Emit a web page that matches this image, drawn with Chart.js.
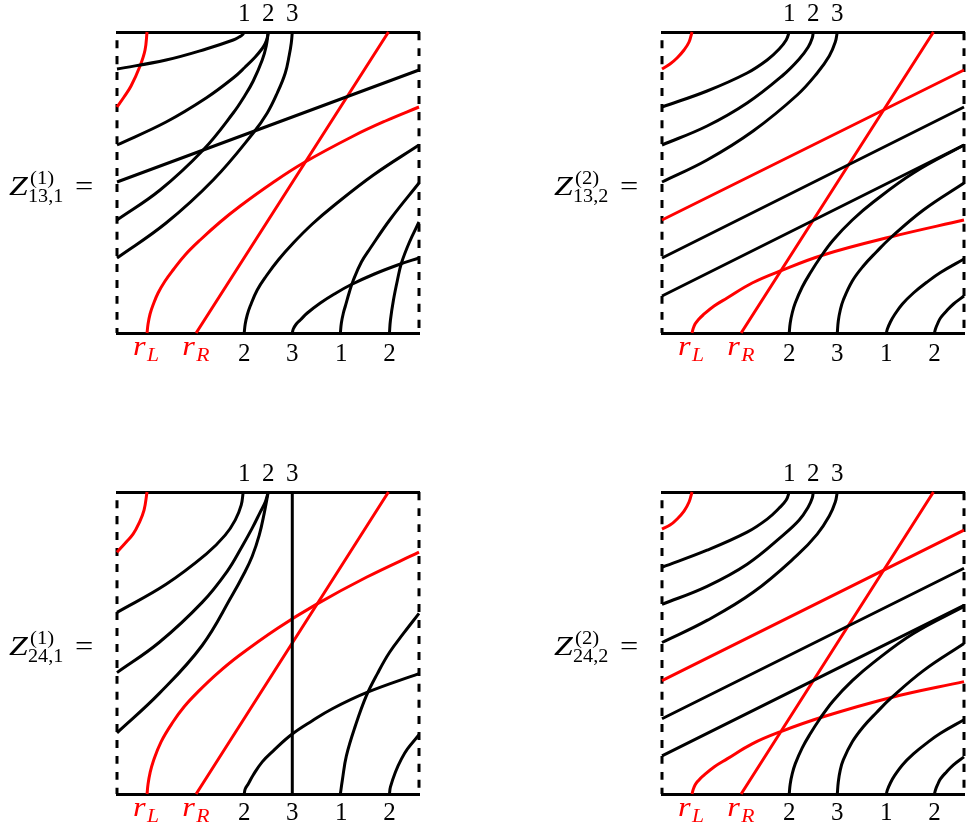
<!DOCTYPE html>
<html>
<head>
<meta charset="utf-8">
<style>
  html, body { margin: 0; padding: 0; background: #fff; }
  #page { position: relative; width: 966px; height: 826px; overflow: hidden; }
  canvas { position: absolute; }
</style>
<script src="https://cdn.jsdelivr.net/npm/chart.js@4/dist/chart.umd.js"></script>
</head>
<body>
<div id="page"></div>
<script>
// tick marks, same on all four squares
const topTickValues = [127, 151, 175];
const topTickLabels = ["1", "2", "3"];
const bottomTickValues = [30, 79, 127, 175, 224, 272];
const bottomTickLabels = ["", "", "2", "3", "1", "2"];
const redTickNames = ["L", "R"];

// dashed sides of every square
const leftEdge = [[0,301],[0,0]];
const rightEdge = [[301.5,301],[301.5,0]];

// Z_13,1^(1)
const a_redCorner = [[0,226],[7,236],[14,247],[23,267],[28,283],[30,301]];
const a_top1 = [[0,264],[49,273],[89,284],[116,293],[122,296],[125,298],[127,301]];
const a_top2a = [[0,188],[49,211],[89,235],[116,255],[128,266],[138,276],[145,284.5],[148,289.5],[150,295],[151,301]];
const a_top2b = [[0,113],[43,143],[86,183],[116,220],[128,238],[136,252],[145,273],[149,287],[151,301]];
const a_top3 = [[0,75],[49,110],[96,153],[136,200],[150,220],[160,240],[168,260],[172,278],[174,290],[175,301]];
const a_line = [[0,151],[301.5,263]];
const a_redLine = [[79,0],[271,301]];
const a_redCurve = [[30,0],[31,9],[33,19],[36,28],[41,40],[48,52],[56,63],[68,78],[83,93],[103,111],[123,127],[155,150],[186,170],[236,197],[268,212],[301.5,226]];
const a_bot2 = [[127,0],[128,9],[130,18],[133,27],[140,43],[149,57],[161,73],[176,90],[195,109],[216,127],[256,158],[301.5,188]];
const a_bot3 = [[175,0],[176,4],[179,9],[183,13],[190,20],[203,30],[217,39],[233,48],[257,59],[283,69],[301.5,75]];
const a_bot1 = [[223,0],[224,10],[226,20],[228,27],[232,41],[236,53],[244,71],[253,85],[273,114],[301.5,150]];
const a_bot2b = [[272,0],[273,13],[276,33],[280,53],[284,70],[292,91],[301.5,111]];

// Z_13,2^(2)
const b_redCorner = [[0,264],[8,269],[15,275],[22,283],[27,291],[30,301]];
const b_top1 = [[0,226],[45,242],[85,260],[105,273],[117,284],[124,293],[127,301]];
const b_top2 = [[0,188],[45,207],[85,230],[121,258],[137,274],[146,286],[150,295],[151,301]];
const b_top3 = [[0,151],[45,173],[91,202],[135,238],[155,260],[167,277],[173,291],[175,301]];
const b_redSlope = [[0,113],[301.5,263]];
const b_line1 = [[0,75],[301.5,226]];
const b_line2 = [[0,37],[301.5,188]];
const b_redLine = [[79,0],[271,301]];
const b_redCurve = [[30,0],[31,4],[33,9],[36,13],[41,18],[52,27],[65,35],[90,50],[118,62],[161,78],[228,96],[301.5,113]];
const b_bot2 = [[127,0],[128,10],[130,20],[133,30],[140,46],[148,60],[158,75.5],[171,93],[190,113],[211,131],[251,160],[301.5,188]];
const b_bot3 = [[175,0],[176,12],[178,23],[181,33],[190,52],[201,67],[214,81],[228,95],[261,123],[301.5,150]];
const b_bot1 = [[224,0],[225,4],[228,11],[232,18],[240,29],[251,40],[264,50.5],[278,60.5],[301.5,74]];
const b_bot2b = [[272,0],[273,4],[275,9],[278,15],[284,22],[291,29],[301.5,37]];

// Z_24,1^(1)
const c_redCorner = [[0,241],[9,251],[16,259],[22,270],[27,283],[30,301]];
const c_top1 = [[0,181],[49,209],[89,239],[108,258],[118,273],[124,288],[126,301]];
const c_top2a = [[0,121],[42,151],[85,191],[110,222],[125,247],[135,265],[143,281],[148,291],[151,301]];
const c_top2b = [[0,61],[42,100],[85,148],[115,198],[127,220],[135,237],[142,258],[147,280],[151,301]];
const c_vertical = [[175,0],[175,301]];
const c_redLine = [[79,0],[271,301]];
const c_redCurve = [[30,0],[31,10],[33,21],[36,32],[44,52],[56,72],[67,87],[82,103],[100,120],[122,138],[160,165],[199,189],[249,216],[301.5,241]];
const c_bot2 = [[127,0],[128,5],[131,10],[136,19],[145,32],[156,43],[174,59],[195,73],[215,85],[249,101],[301.5,120]];
const c_bot1 = [[223,0],[225,14],[229,38],[238,68],[249,98],[260,120],[272,141],[286,160],[301.5,180]];
const c_bot2b = [[272,0],[273,7],[278,22],[284,35],[290,45],[301.5,59]];

// Z_24,2^(2)
const d_redCorner = [[0,264],[8,268],[15,274],[22,282],[27,291],[30,301]];
const d_top1 = [[0,226],[45,243],[85,261],[105,274],[117,285],[124,293],[127,301]];
const d_top2 = [[0,189],[45,207],[85,229],[121,258],[137,273],[146,286],[150,295],[151,301]];
const d_top3 = [[0,151],[45,173],[91,201],[135,238],[155,259],[167,277],[173,291],[175,301]];
const d_redSlope = [[0,113],[301.5,263]];
const d_line1 = [[0,75],[301.5,225]];
const d_line2 = [[0,38],[301.5,188]];
const d_redLine = [[79,0],[271,301]];
const d_redCurve = [[30,0],[31,4],[33,9],[36,13],[41,18],[52,27],[65,35],[90,50],[118,62],[161,77],[228,96],[301.5,112]];
const d_bot2 = [[127,0],[128,10],[130,20],[133,30],[140,46],[148,60],[158,75.5],[171,93],[190,113],[211,131],[251,160],[301.5,187]];
const d_bot3 = [[175,0],[176,12],[178,24],[181,34],[190,52],[201,67],[214,81],[228,95],[261,123],[301.5,150]];
const d_bot1 = [[224,0],[225,4],[228,11],[232,18],[240,29],[251,40],[264,50.5],[278,60.5],[301.5,74]];
const d_bot2b = [[272,0],[273,4],[275,9],[278,15],[284,22],[291,29],[301.5,37]];

const RED = "#ff0000";
const SERIF = '"Liberation Serif", serif';

const panels = [
  { left: 0, top: 0, width: 545, height: 460, plotTop: 32, plotBottom: 333, labelGap: 6, sup: "(1)", sub: "13,1",
    black: [a_top1, a_top2a, a_top2b, a_top3, a_line, a_bot2, a_bot3, a_bot1, a_bot2b],
    red: [a_redCorner, a_redLine, a_redCurve] },
  { left: 545, top: 0, width: 421, height: 460, plotTop: 32, plotBottom: 333, labelGap: 6, sup: "(2)", sub: "13,2",
    black: [b_top1, b_top2, b_top3, b_line1, b_line2, b_bot2, b_bot3, b_bot1, b_bot2b],
    red: [b_redCorner, b_redSlope, b_redLine, b_redCurve] },
  { left: 0, top: 460, width: 545, height: 366, plotTop: 32, plotBottom: 334, labelGap: 4, sup: "(1)", sub: "24,1",
    black: [c_top1, c_top2a, c_top2b, c_vertical, c_bot2, c_bot1, c_bot2b],
    red: [c_redCorner, c_redLine, c_redCurve] },
  { left: 545, top: 460, width: 421, height: 366, plotTop: 32, plotBottom: 334, labelGap: 4, sup: "(2)", sub: "24,2",
    black: [d_top1, d_top2, d_top3, d_line1, d_line2, d_bot2, d_bot3, d_bot1, d_bot2b],
    red: [d_redCorner, d_redSlope, d_redLine, d_redCurve] },
];

function text(ctx, str, x, y, font, color, stretch) {
  ctx.save();
  ctx.font = font;
  ctx.fillStyle = color;
  ctx.textAlign = "left";
  ctx.textBaseline = "alphabetic";
  ctx.translate(x, y);
  ctx.scale(stretch || 1, 1);
  ctx.fillText(str, 0, 0);
  ctx.restore();
}

// r_L, r_R and the Z label need sub/superscripts, ticks can't do that
const mathLabels = {
  id: "mathLabels",
  afterDraw(chart, args, opts) {
    const ctx = chart.ctx;
    const xs = chart.scales.x;
    redTickNames.forEach((name, i) => {
      const px = xs.getPixelForValue(bottomTickValues[i]);
      const base = opts.plotBottom + 22;
      text(ctx, "r", px - 14, base, "italic 27px " + SERIF, RED, 1.2);
      text(ctx, name, px, base + 6, "italic 18px " + SERIF, RED, 1.2);
    });
    const base = 195;
    text(ctx, "Z", 9, base, "italic 27px " + SERIF, "#000", 1.25);
    text(ctx, opts.sup, 30, base - 11, "18px " + SERIF, "#000", 1.15);
    text(ctx, opts.sub, 28, base + 7, "18px " + SERIF, "#000", 1.12);
    text(ctx, "=", 75, base, "27px " + SERIF, "#000", 1.2);
  },
};

function curve(points, color, dash, dashOffset) {
  return {
    data: points.map((p) => ({ x: p[0], y: p[1] })),
    borderColor: color,
    borderWidth: 3,
    borderDash: dash || [],
    borderDashOffset: dashOffset || 0,
    pointRadius: 0,
    showLine: true,
    fill: false,
    tension: 0.4,
    clip: false,
  };
}

function xAxis(position, values, labels, height, gap) {
  return {
    type: "linear",
    position: position,
    min: 0,
    max: 301.5,
    afterBuildTicks: (scale) => {
      scale.ticks = values.map((v) => ({ value: v }));
    },
    afterFit: (scale) => {
      scale.height = height;
    },
    grid: { display: false, drawTicks: false },
    border: { display: true, color: "#000", width: 3 },
    ticks: {
      autoSkip: false,
      maxRotation: 0,
      padding: gap,
      color: "#000",
      font: { family: SERIF, size: 25 },
      callback: (v, i) => labels[i],
    },
  };
}

function yAxis(position) {
  return {
    type: "linear",
    position: position,
    min: 0,
    max: 301,
    afterFit: (scale) => {
      scale.width = 0;
    },
    grid: { display: false, drawTicks: false },
    border: { display: false },
    ticks: { display: false },
  };
}

panels.forEach((p) => {
  const canvas = document.createElement("canvas");
  canvas.width = p.width;
  canvas.height = p.height;
  canvas.style.left = p.left + "px";
  canvas.style.top = p.top + "px";
  canvas.style.width = p.width + "px";
  canvas.style.height = p.height + "px";
  document.getElementById("page").appendChild(canvas);

  // left side starts on a gap at the top, right side on a dash
  const edges = [curve(leftEdge, "#000", [8, 8], 8), curve(rightEdge, "#000", [8, 8], 0)];

  new Chart(canvas, {
    type: "scatter",
    data: {
      datasets: p.black.map((c) => curve(c, "#000")).concat(p.red.map((c) => curve(c, RED)), edges),
    },
    options: {
      responsive: false,
      animation: false,
      layout: { padding: { left: 117, right: p.width - 117 - 302 } },
      plugins: {
        legend: { display: false },
        tooltip: { enabled: false },
        mathLabels: { plotBottom: p.plotBottom, sup: p.sup, sub: p.sub },
      },
      scales: {
        x: xAxis("bottom", bottomTickValues, bottomTickLabels, p.height - p.plotBottom, p.labelGap),
        xTop: xAxis("top", topTickValues, topTickLabels, p.plotTop, 3),
        y: yAxis("left"),
        yRight: yAxis("right"),
      },
    },
    plugins: [mathLabels],
  });
});
</script>
</body>
</html>
